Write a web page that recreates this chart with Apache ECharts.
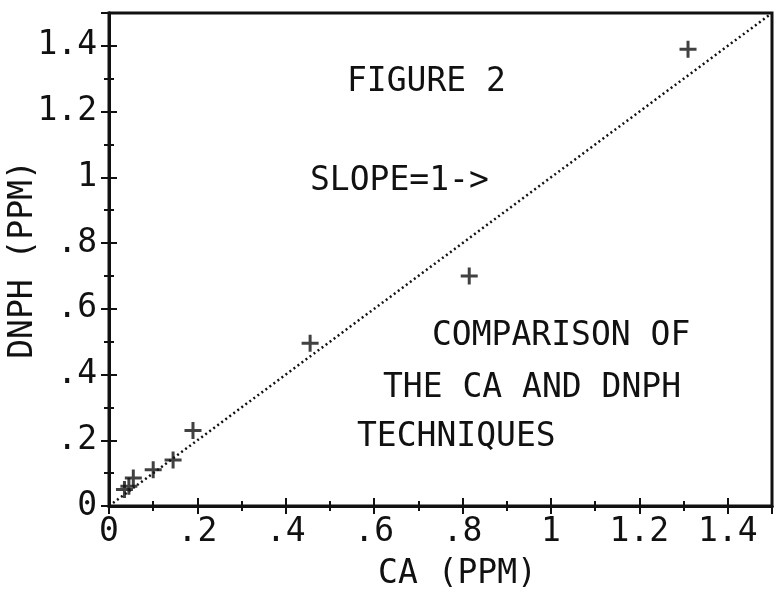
<!DOCTYPE html>
<html>
<head>
<meta charset="utf-8">
<script src="https://cdn.jsdelivr.net/npm/echarts@6/dist/echarts.min.js"></script>
<style>
  html, body { margin: 0; padding: 0; background: #fff; }
  #chart { width: 776px; height: 595px; }
</style>
</head>
<body>
<div id="chart"></div>
<script>
// measured points, CA vs DNPH (ppm)
const caPpm = [0.035, 0.045, 0.055, 0.10, 0.145, 0.19, 0.455, 0.815, 1.31]
const dnphPpm = [0.05, 0.06, 0.085, 0.11, 0.14, 0.23, 0.495, 0.70, 1.39]
// slope = 1 reference line
const slopeX = [0, 1.5]
const slopeY = [0, 1.5]

const font = 'DejaVu Sans Mono'
const ink = '#111'
const plus = 'path://M7,0H10V7H17V10H10V17H7V10H0V7H7Z'

const gridBox = { left: 109, right: 4, top: 13, bottom: 89, containLabel: false, outerBoundsMode: 'none' }

const fmt = v => {
  if (Math.abs(v - 1.5) < 1e-6) return ''
  let s = (+v.toFixed(1)).toString()
  return s.startsWith('0.') ? s.slice(1) : s
}

// inside = true on the main grid, false on the twin grid -> ticks cross the axis line
const tickAxis = (inside) => ({
  type: 'value', min: 0, max: 1.5, interval: 0.2,
  axisLine: { show: true, onZero: false, lineStyle: { color: ink, width: 3 } },
  axisTick: { show: true, inside: inside, length: 8, lineStyle: { color: ink, width: 2 } },
  minorTick: { show: true, splitNumber: 2, length: 5, lineStyle: { color: ink, width: 2 } },
  splitLine: { show: false }
})

const labelStyle = { color: ink, fontFamily: font, fontSize: 33, formatter: fmt, showMaxLabel: false }

const txt = (x, y, s) => ({
  type: 'text', left: x, top: y - 17,
  style: { text: s, fill: ink, font: '33px "' + font + '"' }
})

const chart = echarts.init(document.getElementById('chart'))
chart.setOption({
  backgroundColor: '#fff',
  animation: false,
  grid: [
    Object.assign({}, gridBox, { show: true, borderColor: ink, borderWidth: 3 }),
    Object.assign({}, gridBox)
  ],
  xAxis: [
    Object.assign(tickAxis(true), {
      gridIndex: 0, position: 'bottom',
      name: 'CA (PPM)', nameLocation: 'middle', nameGap: 52, nameMoveOverlap: false,
      nameTextStyle: { color: ink, fontFamily: font, fontSize: 33, padding: [0, 0, 0, 34] },
      axisLabel: Object.assign({}, labelStyle, { margin: 10 })
    }),
    Object.assign(tickAxis(false), { gridIndex: 1, position: 'bottom', axisLabel: { show: false } })
  ],
  yAxis: [
    Object.assign(tickAxis(true), {
      gridIndex: 0, position: 'left',
      name: 'DNPH (PPM)', nameLocation: 'middle', nameGap: 69, nameRotate: 90, nameMoveOverlap: false,
      nameTextStyle: { color: ink, fontFamily: font, fontSize: 33 },
      axisLabel: Object.assign({}, labelStyle, { margin: 12 })
    }),
    Object.assign(tickAxis(false), { gridIndex: 1, position: 'left', axisLabel: { show: false } })
  ],
  graphic: [
    txt(347, 83, 'FIGURE 2'),
    txt(310, 182, 'SLOPE=1->'),
    txt(432, 337, 'COMPARISON OF'),
    txt(383, 389, 'THE CA AND DNPH'),
    txt(357, 438, 'TECHNIQUES')
  ],
  series: [
    {
      type: 'line', xAxisIndex: 0, yAxisIndex: 0,
      data: slopeX.map((x, i) => [x, slopeY[i]]),
      showSymbol: false, silent: true,
      lineStyle: { color: ink, width: 2.5, type: [2, 3] }
    },
    {
      type: 'scatter', xAxisIndex: 0, yAxisIndex: 0,
      data: caPpm.map((x, i) => [x, dnphPpm[i]]),
      symbol: plus, symbolSize: 17,
      itemStyle: { color: ink }
    },
    // empty series on the twin grid so its axes are laid out
    { type: 'scatter', xAxisIndex: 1, yAxisIndex: 1, data: [], silent: true }
  ]
})
</script>
</body>
</html>
